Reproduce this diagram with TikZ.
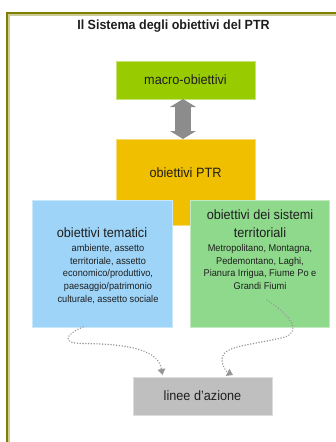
\documentclass[tikz,border=0pt]{standalone}
\usepackage{fontspec}
\setmainfont{Liberation Sans}[FakeStretch=0.94]
\usepackage{xcolor}
\usetikzlibrary{arrows.meta}

\definecolor{frameolive}{RGB}{128,128,0}
\definecolor{macrogreen}{RGB}{153,204,0}
\definecolor{ptrgold}{RGB}{240,192,0}
\definecolor{themeblue}{RGB}{157,212,248}
\definecolor{systemgreen}{RGB}{143,217,140}
\definecolor{actiongray}{RGB}{191,191,191}
\definecolor{linkgray}{RGB}{150,150,150}
\definecolor{arrowgray}{RGB}{140,140,140}
\definecolor{textdark}{RGB}{30,30,30}

\newcommand{\headsize}{\fontsize{13.5}{17.7}\selectfont}
\newcommand{\notesize}{\fontsize{9.8}{12.9}\selectfont}

\begin{document}
\begin{tikzpicture}[x=1pt, y=-1pt,
    every node/.style={outer sep=0pt, text=textdark},
    goalbox/.style={fill=#1, draw=#1!55!white, line width=0.8pt, inner sep=0pt},
    boxtext/.style={font=\headsize, align=center, inner sep=0pt},
    notetext/.style={font=\notesize, align=center, inner sep=0pt, anchor=north},
    link/.style={draw=linkgray, line width=1.6pt, line cap=round, dash pattern=on 0.01pt off 2.8pt,
        -{Triangle[length=6pt, width=8pt, line width=0pt]}}]
    \useasboundingbox (0,0) rectangle (335,442);

    % frame
    \draw[frameolive, line width=2pt] (7.3,450) -- (7.3,13.3) -- (345,13.3);
    \draw[frameolive!40!white, line width=1.2pt] (9,450) -- (9,15) -- (345,15);

    \node[font=\fontsize{13.3}{15}\selectfont\bfseries] (title) at (173.5,26) {Il Sistema degli obiettivi del PTR};

    \node[goalbox=macrogreen, minimum width=139pt, minimum height=38pt, font=\headsize] (macro) at (185.5,80) {macro-obiettivi};
    \node[goalbox=ptrgold, minimum width=139pt, minimum height=86pt] (ptr) at (185.5,182) {};
    \node[boxtext] (ptrtext) at (185.5,173) {obiettivi PTR};

    \draw[arrowgray, line width=16pt, {Triangle[length=8pt, width=26pt, line width=0pt]}-{Triangle[length=8pt, width=26pt, line width=0pt]}]
        ([xshift=-2.5pt]macro.south) -- ([xshift=-2.5pt]ptr.north);

    \node[goalbox=themeblue, minimum width=140pt, minimum height=127pt] (themes) at (102,263.5) {};
    \node[goalbox=systemgreen, minimum width=139pt, minimum height=127pt] (systems) at (259.5,263.5) {};

    \node[notetext] (themestext) at (108,227.5) {{\headsize obiettivi tematici\kern12pt}\\[1pt]
        ambiente, assetto\\ territoriale, assetto\\ economico/produttivo,\\ paesaggio/patrimonio\\ culturale, assetto sociale};
    \node[notetext] (systemstext) at (260,209.8) {{\headsize obiettivi dei sistemi}\\[4.8pt]
        {\headsize territoriali}\\[1pt]
        Metropolitano, Montagna,\\ Pedemontano, Laghi,\\ Pianura Irrigua, Fiume Po e\\ Grandi Fiumi};

    \node[goalbox=actiongray, minimum width=139pt, minimum height=38pt, font=\headsize] (actions) at (202.5,396) {linee d’azione};

    \coordinate (systemsout) at (267,300);
    \draw[link] ([xshift=-19pt]themes.south) .. controls (66,334) and (60,343.5) .. (83,343.5)
        .. controls (130,344) and (158,350) .. ([xshift=-40pt, yshift=2pt]actions.north);
    \draw[link] (systemsout) .. controls (290,315) and (302,331) .. (285,337)
        .. controls (255,345) and (222,345) .. (222,359)
        .. controls (222,367) and (227,372) .. ([xshift=30.5pt, yshift=2pt]actions.north);
\end{tikzpicture}
\end{document}
